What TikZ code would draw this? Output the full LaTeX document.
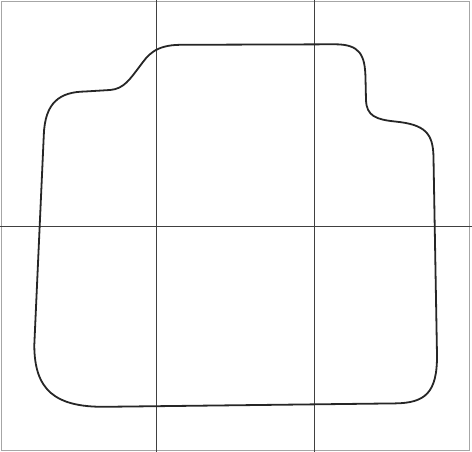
\documentclass[tikz,border=0pt]{standalone}
\begin{document}
\begin{tikzpicture}[x=1pt,y=-1pt,
  gridline/.style={draw=black!75,line width=0.9pt},
  frameline/.style={draw=black!35,line width=0.9pt},
  outline/.style={draw=black!85,line width=1.8pt,line join=round}]
\useasboundingbox (0,0) rectangle (472,452);
\draw[frameline] (1,1.5) rectangle (469.5,450.5);
\draw[gridline] (156.5,0) -- (156.5,452);
\draw[gridline] (314.7,0) -- (314.7,452);
\draw[gridline] (0,226) -- (472,226);
\draw[outline] (180,44.8) -- (335,44.3)
  .. controls (360,44.3) and (365,55) .. (365.5,78)
  -- (366,100)
  .. controls (366.5,116) and (376,119.5) .. (395,121.5)
  .. controls (425,124.5) and (433.3,133) .. (433.5,158)
  -- (437,355)
  .. controls (437.3,393) and (425,403) .. (395,403.4)
  -- (105,406.8)
  .. controls (55,407.2) and (34.3,390) .. (34.3,345)
  -- (43.8,135)
  .. controls (45,102) and (60,92) .. (85,91.5)
  -- (110,90)
  .. controls (124,89) and (130,79) .. (140,66)
  .. controls (148,55) and (155,45.2) .. (180,44.8)
  -- cycle;
\end{tikzpicture}
\end{document}
